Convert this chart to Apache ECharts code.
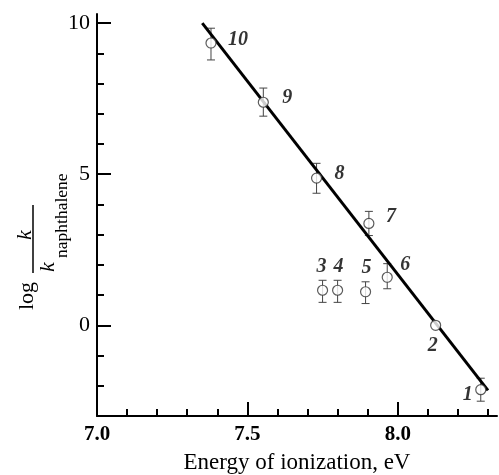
<!DOCTYPE html>
<html>
<head>
<meta charset="utf-8">
<script src="https://cdn.jsdelivr.net/npm/echarts@6/dist/echarts.min.js"></script>
<style>html,body{margin:0;padding:0;background:#fff}#main{width:499px;height:475px}</style>
</head>
<body>
<div id="main"></div>
<script>
  // compound numbers and measured values
  var ids = ['1', '2', '3', '4', '5', '6', '7', '8', '9', '10'];
  var energy = [8.276, 8.126, 7.750, 7.800, 7.893, 7.965, 7.904, 7.730, 7.553, 7.379];
  var logK = [-2.13, 0.00, 1.16, 1.16, 1.11, 1.59, 3.37, 4.87, 7.38, 9.34];
  var errLow = [0.38, 0, 0.40, 0.40, 0.39, 0.38, 0.40, 0.50, 0.46, 0.56];
  var errHigh = [0.38, 0, 0.33, 0.33, 0.33, 0.45, 0.40, 0.49, 0.47, 0.49];
  // regression line end points
  var fitX = [7.35, 8.30];
  var fitY = [10.0, -2.15];
  // tick labels
  var xTickLabels = ['7.0', '7.5', '8.0'];
  var yTickLabels = ['0', '5', '10'];

  // label offsets (px) for the point numbers
  var labelOffset = [[-13, 5], [-3, 21], [-1, -23], [1, -23], [1, -24], [18, -12], [22, -7], [23, -4], [24, -4], [27, -3]];

  var SERIF = '"Liberation Serif", "Times New Roman", serif';
  var pxX = 400 / 1.33, pxY = 402 / 13.3;

  var myChart = echarts.init(document.getElementById('main'));

  var errData = [], ptData = [], fitData = [];
  for (var i = 0; i < ids.length; i++) {
    if (errLow[i] > 0 || errHigh[i] > 0) {
      errData.push([energy[i], logK[i] - errLow[i], logK[i] + errHigh[i]]);
    }
    ptData.push({ value: [energy[i], logK[i]], label: { offset: labelOffset[i] } });
  }
  for (var j = 0; j < fitX.length; j++) fitData.push([fitX[j], fitY[j]]);

  var option = {
    animation: false,
    backgroundColor: '#fff',
    grid: [
      { left: 97, top: 14, width: 400, height: 402, outerBoundsMode: 'none' },
      { left: 97, top: 14 + 0.3 * pxY, width: 1.3 * pxX, height: 13 * pxY, outerBoundsMode: 'none' },
      { left: 97, top: 14 + 0.3 * pxY, width: pxX, height: 10 * pxY, outerBoundsMode: 'none' }
    ],
    xAxis: [
      {
        gridIndex: 0, type: 'value', min: 7.0, max: 8.33,
        axisLine: { onZero: false, lineStyle: { color: '#000', width: 2 } },
        axisTick: { show: false }, axisLabel: { show: false }, splitLine: { show: false },
        name: 'Energy of ionization, eV', nameLocation: 'middle', nameGap: 35,
        nameTextStyle: { fontFamily: SERIF, fontSize: 23, color: '#000' }
      },
      {
        gridIndex: 1, type: 'value', min: 7.0, max: 8.3, interval: 0.1,
        axisLine: { show: false, onZero: false },
        axisTick: { inside: true, length: 7, lineStyle: { color: '#000', width: 2 } },
        axisLabel: { show: false }, splitLine: { show: false }
      },
      {
        gridIndex: 2, type: 'value', min: 7.0, max: 8.0, interval: 0.5, offset: 3 * pxY,
        axisLine: { show: false, onZero: false },
        axisTick: { inside: true, length: 14, lineStyle: { color: '#000', width: 2 } },
        axisLabel: {
          margin: 8, fontFamily: SERIF, fontSize: 21, fontWeight: 'bold', color: '#000',
          formatter: function (v, idx) { return xTickLabels[idx]; }
        },
        splitLine: { show: false }
      }
    ],
    yAxis: [
      {
        gridIndex: 0, type: 'value', min: -3, max: 10.3,
        axisLine: { onZero: false, lineStyle: { color: '#000', width: 2 } },
        axisTick: { show: false }, axisLabel: { show: false }, splitLine: { show: false }
      },
      {
        gridIndex: 1, type: 'value', min: -3, max: 10, interval: 1,
        axisLine: { show: false, onZero: false },
        axisTick: { inside: true, length: 7, lineStyle: { color: '#000', width: 2 } },
        axisLabel: { show: false }, splitLine: { show: false }
      },
      {
        gridIndex: 2, type: 'value', min: 0, max: 10, interval: 5,
        axisLine: { show: false, onZero: false },
        axisTick: { inside: true, length: 14, lineStyle: { color: '#000', width: 2 } },
        axisLabel: {
          margin: 7, fontFamily: SERIF, fontSize: 22, color: '#000',
          formatter: function (v, idx) { return yTickLabels[idx]; }
        },
        splitLine: { show: false }
      }
    ],
    graphic: [{
      type: 'group', x: 33, y: 239, rotation: Math.PI / 2,
      children: [
        { type: 'line', shape: { x1: -34, y1: 0, x2: 34, y2: 0 }, style: { stroke: '#000', lineWidth: 1.5 } },
        { type: 'text', x: -57, y: -6, style: { text: 'log', font: '22px ' + SERIF, align: 'center', verticalAlign: 'middle', fill: '#000' } },
        { type: 'text', x: 4, y: 3, style: { text: 'k', font: 'italic 22px ' + SERIF, align: 'center', verticalAlign: 'bottom', fill: '#000' } },
        { type: 'text', x: -28, y: 4, style: { text: 'k', font: 'italic 22px ' + SERIF, align: 'center', verticalAlign: 'top', fill: '#000' } },
        { type: 'text', x: -19, y: 20, style: { text: 'naphthalene', font: '17.5px ' + SERIF, align: 'left', verticalAlign: 'top', fill: '#000' } }
      ]
    }],
    series: [
      {
        type: 'custom', xAxisIndex: 0, yAxisIndex: 0, z: 2,
        data: errData,
        renderItem: function (params, api) {
          var lo = api.coord([api.value(0), api.value(1)]);
          var hi = api.coord([api.value(0), api.value(2)]);
          var w = 4, st = { stroke: '#444', lineWidth: 1 };
          return {
            type: 'group', children: [
              { type: 'line', shape: { x1: lo[0], y1: lo[1], x2: hi[0], y2: hi[1] }, style: st },
              { type: 'line', shape: { x1: lo[0] - w, y1: lo[1], x2: lo[0] + w, y2: lo[1] }, style: st },
              { type: 'line', shape: { x1: hi[0] - w, y1: hi[1], x2: hi[0] + w, y2: hi[1] }, style: st }
            ]
          };
        }
      },
      {
        type: 'line', xAxisIndex: 0, yAxisIndex: 0, z: 3,
        data: fitData, symbol: 'none',
        lineStyle: { color: '#000', width: 3 }
      },
      {
        type: 'scatter', xAxisIndex: 0, yAxisIndex: 0, z: 4,
        data: ptData, symbol: 'circle', symbolSize: 10,
        itemStyle: { color: '#fff', borderColor: '#333', borderWidth: 1.2 },
        label: {
          show: true, position: 'inside',
          fontFamily: SERIF, fontSize: 20, fontStyle: 'italic', fontWeight: 'bold', color: '#000',
          formatter: function (p) { return ids[p.dataIndex]; }
        },
        emphasis: { disabled: true }
      }
    ]
  };
  myChart.setOption(option);
</script>
</body>
</html>
